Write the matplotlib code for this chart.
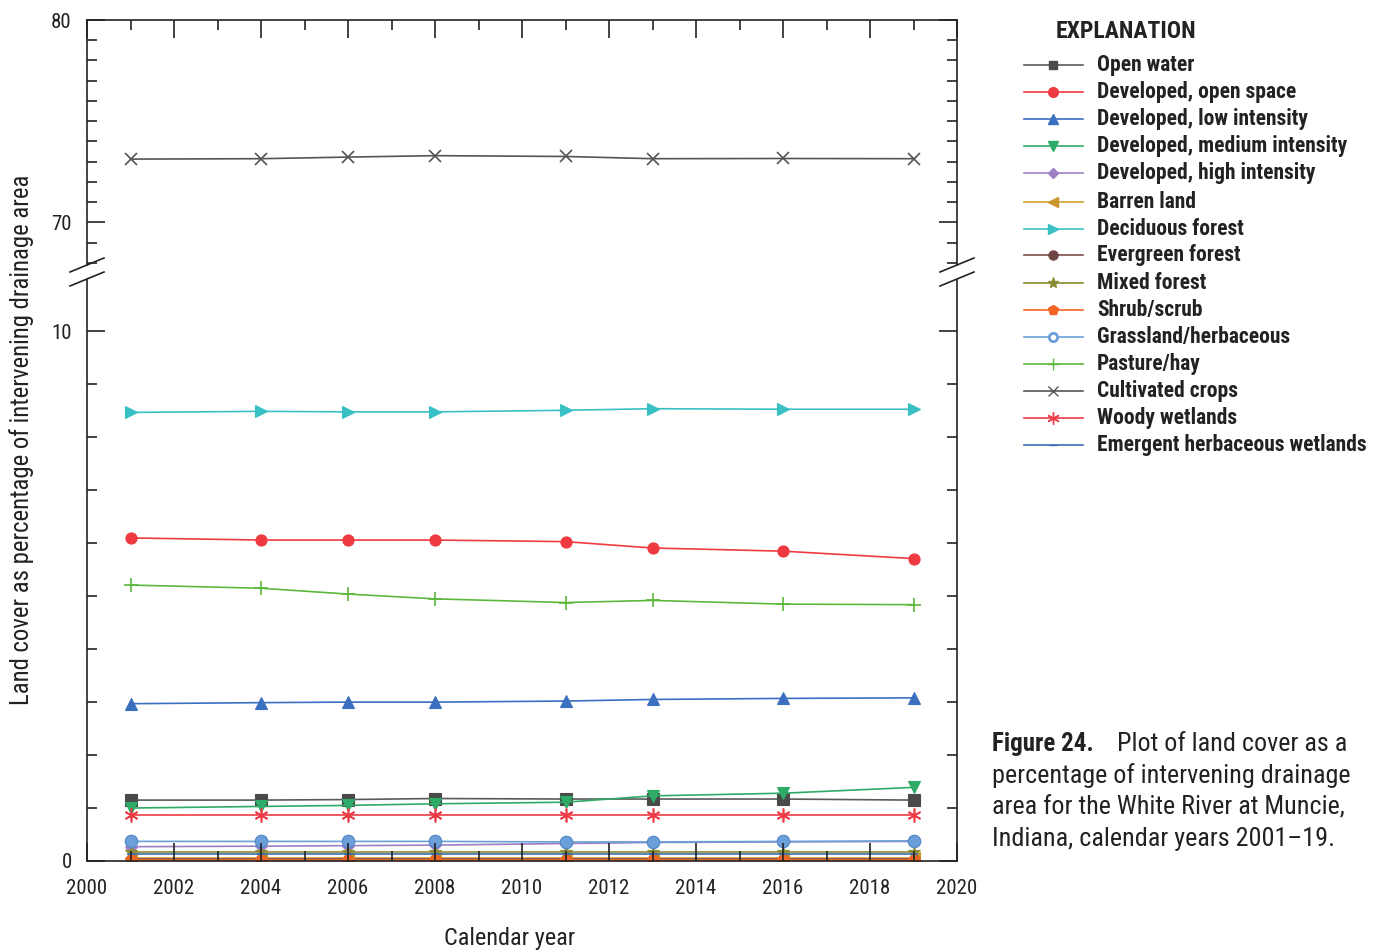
import matplotlib
matplotlib.use("Agg")
import matplotlib.pyplot as plt
from matplotlib import font_manager as fm
from matplotlib.lines import Line2D
from matplotlib.ticker import MultipleLocator

# pick a condensed sans if one is installed, otherwise fall back to smaller DejaVu
installed = {f.name for f in fm.fontManager.ttflist}
condensed = [n for n in ('Roboto Condensed', 'Barlow Semi Condensed', 'Liberation Sans Narrow')
             if n in installed]
if condensed:
    FONT = [condensed[0], 'DejaVu Sans']
    SCALE = 1.0
else:
    FONT = ['DejaVu Sans']
    SCALE = 0.72
plt.rcParams['font.family'] = FONT

# land cover, percent of intervening drainage area
years = [2001, 2004, 2006, 2008, 2011, 2013, 2016, 2019]

open_water = [1.15, 1.15, 1.16, 1.18, 1.17, 1.17, 1.17, 1.15]
dev_open = [6.10, 6.06, 6.06, 6.06, 6.03, 5.91, 5.85, 5.71]
dev_low = [2.97, 2.99, 3.00, 3.00, 3.02, 3.05, 3.07, 3.08]
dev_medium = [1.00, 1.03, 1.05, 1.08, 1.11, 1.23, 1.28, 1.39]
dev_high = [0.27, 0.28, 0.29, 0.30, 0.33, 0.35, 0.36, 0.37]
barren = [0.05, 0.05, 0.05, 0.05, 0.05, 0.05, 0.05, 0.05]
deciduous = [8.47, 8.49, 8.48, 8.48, 8.51, 8.54, 8.53, 8.53]
evergreen = [0.03, 0.03, 0.03, 0.03, 0.03, 0.03, 0.03, 0.03]
mixed = [0.17, 0.17, 0.17, 0.17, 0.17, 0.17, 0.17, 0.17]
shrub = [0.01, 0.01, 0.01, 0.01, 0.01, 0.01, 0.01, 0.01]
grassland = [0.37, 0.37, 0.37, 0.37, 0.36, 0.36, 0.37, 0.38]
pasture = [5.21, 5.15, 5.04, 4.95, 4.88, 4.92, 4.85, 4.84]
cultivated = [73.13, 73.15, 73.23, 73.30, 73.26, 73.15, 73.16, 73.15]
woody = [0.87, 0.87, 0.87, 0.87, 0.87, 0.87, 0.87, 0.87]
emergent = [0.13, 0.13, 0.13, 0.13, 0.13, 0.13, 0.13, 0.13]

# label, values, line colour, marker, marker face, plot marker size, legend marker size
series = [
    ("Open water", open_water, "#5a5a5a", "s", "#4a4a4a", 8, 6),
    ("Developed, open space", dev_open, "#ee3a40", "o", "#ee3a40", 8, 7),
    ("Developed, low intensity", dev_low, "#3b6fc0", "^", "#3b6fc0", 9, 7),
    ("Developed, medium intensity", dev_medium, "#2eab66", "v", "#2eab66", 9, 7),
    ("Developed, high intensity", dev_high, "#9d7fc4", "D", "#9d7fc4", 6, 5.5),
    ("Barren land", barren, "#d4a12c", "<", "#c8962a", 8, 7),
    ("Deciduous forest", deciduous, "#38c0c4", ">", "#38c0c4", 9, 7),
    ("Evergreen forest", evergreen, "#7a4d47", "o", "#6e4540", 7, 6.5),
    ("Mixed forest", mixed, "#8c8c32", "*", "#8c8c32", 9, 8),
    ("Shrub/scrub", shrub, "#f26524", "p", "#f26524", 9, 7.5),
    ("Grassland/herbaceous", grassland, "#6b9fd9", "o", "#6b9fd9", 9, 6),
    ("Pasture/hay", pasture, "#5cb83c", "+", "#5cb83c", 10, 9),
    ("Cultivated crops", cultivated, "#555555", "x", "#555555", 9, 7),
    ("Woody wetlands", woody, "#ef3b46", (6, 2, 0), "#ef3b46", 10, 9),
    ("Emergent herbaceous wetlands", emergent, "#3e6cb6", "_", "#3e6cb6", 6, 6),
]

W, H = 1392, 952
fig = plt.figure(figsize=(W / 100, H / 100), dpi=100)

left, right = 87 / W, 957 / W
ax_top = fig.add_axes([left, 1 - 265 / H, right - left, (265 - 20) / H])
ax_bot = fig.add_axes([left, 1 - 861 / H, right - left, (861 - 280) / H])

for name, vals, col, mk, face, ms, lms in series:
    mec = "#4f86c6" if name == "Grassland/herbaceous" else face
    thin = mk in ("+", "x", "_") or isinstance(mk, tuple)
    for ax in (ax_top, ax_bot):
        ax.plot(years, vals, color=col, lw=1.2, marker=mk, ms=ms,
                mfc=face, mec=mec, mew=1.2 if thin else 0.8)

ax_top.set_ylim(67.9, 80)
ax_bot.set_ylim(0, 10.97)

for ax in (ax_top, ax_bot):
    ax.set_xlim(2000, 2020)
    ax.set_axisbelow(False)
    ax.yaxis.set_minor_locator(MultipleLocator(1))
    ax.xaxis.set_minor_locator(MultipleLocator(1))
    ax.xaxis.set_major_locator(MultipleLocator(2))
    ax.tick_params(which="both", direction="in", left=True, right=True,
                   labelsize=15 * SCALE, width=1.2, colors="#222222")
    ax.tick_params(axis="x", pad=13)
    ax.tick_params(axis="y", pad=11)
    ax.tick_params(which="major", length=13)
    ax.tick_params(which="minor", length=7)
    for sp in ax.spines.values():
        sp.set_color("#222222")
        sp.set_linewidth(1.2)

ax_top.spines["bottom"].set_visible(False)
ax_bot.spines["top"].set_visible(False)
ax_top.tick_params(which="both", bottom=False, top=True, labelbottom=False)
ax_bot.tick_params(which="both", top=False, bottom=True)
ax_top.set_yticks([70, 80])
ax_bot.set_yticks([0, 10])

# axis break marks on both sides
for xc in (87, 957):
    for dy in (0, 14):
        fig.add_artist(Line2D([(xc - 17) / W, (xc + 17) / W],
                              [1 - (272 + dy) / H, 1 - (258 + dy) / H],
                              color="#222222", lw=1.2))

fig.text(510 / W, 1 - 938 / H, "Calendar year", ha="center", va="center",
         fontsize=17.5 * SCALE, color="#222222")
fig.text(22 / W, 1 - 440 / H, "Land cover as percentage of intervening drainage area",
         rotation=90, ha="center", va="center", fontsize=17.8 * SCALE, color="#222222")

# explanation block
fig.text(1056 / W, 1 - 32 / H, "EXPLANATION", ha="left", va="center",
         fontsize=17 * SCALE, fontweight="bold", color="#222222")
row_y = [65, 92, 119, 146, 173, 202, 229, 255, 283, 310, 337, 364, 391, 418, 445]
for (name, vals, col, mk, face, ms, lms), yy in zip(series, row_y):
    yf = 1 - yy / H
    mec = face
    if name == "Grassland/herbaceous":
        face = "#ffffff"
        mec = "#6b9fd9"
    fig.add_artist(Line2D([1024 / W, 1083 / W], [yf, yf], color=col, lw=1.2))
    fig.add_artist(Line2D([1053 / W], [yf], marker=mk, ms=lms, mfc=face, mec=mec,
                          mew=2 if name == "Grassland/herbaceous" else 1.0, lw=0))
    fig.text(1097 / W, yf, name, ha="left", va="center", fontsize=15.5 * SCALE,
             fontweight="bold", color="#222222")

# caption
cap_y = [744, 776, 808, 839]
fig.text(992 / W, 1 - cap_y[0] / H, "Figure 24.", ha="left", va="center",
         fontsize=18 * SCALE, fontweight="bold", color="#222222")
fig.text(1117 / W, 1 - cap_y[0] / H, "Plot of land cover as a", ha="left", va="center",
         fontsize=18.8 * SCALE, color="#222222")
cap_lines = ["percentage of intervening drainage",
             "area for the White River at Muncie,",
             "Indiana, calendar years 2001\u201319."]
for txt, yy in zip(cap_lines, cap_y[1:]):
    fig.text(992 / W, 1 - yy / H, txt, ha="left", va="center", fontsize=18.8 * SCALE,
             color="#222222")

fig.savefig("out.png", dpi=100)
